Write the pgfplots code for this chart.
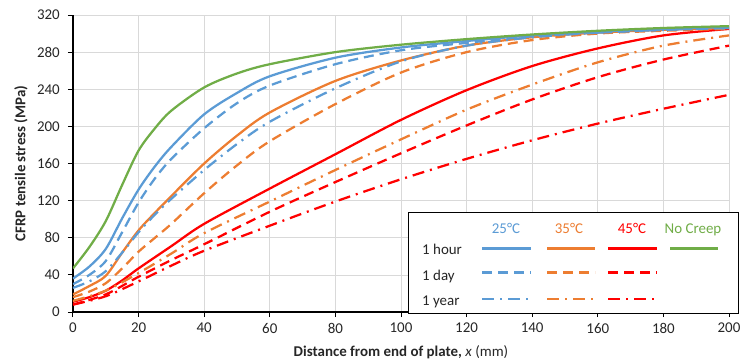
\documentclass[border=0pt]{standalone}
\usepackage{fontspec}
\setmainfont{Carlito}
\usepackage{pgfplots}
\pgfplotsset{compat=1.18}
\definecolor{cblue}{HTML}{5B9BD5}
\definecolor{corange}{HTML}{ED7D31}
\definecolor{cred}{HTML}{FF0000}
\definecolor{cgreen}{HTML}{70AD47}
\definecolor{cgrid}{HTML}{D9D9D9}
\definecolor{ctext}{HTML}{262626}
\tikzset{
  dsh/.style={dash pattern=on 10bp off 6bp},
  dshdot/.style={dash pattern=on 12bp off 6bp on 2bp off 6bp},
  ser/.style={line width=2.25bp, smooth, tension=0.5}
}
\begin{document}
\fontsize{15}{18}\selectfont
\begin{tikzpicture}
\useasboundingbox (-73bp,-50bp) rectangle (669bp,312bp);
\begin{axis}[
  at={(0,0)}, anchor=south west,
  width=656bp, height=297bp, scale only axis,
  xmin=0, xmax=200, ymin=0, ymax=320,
  xtick={0,20,...,200}, ytick={0,40,...,320},
  axis x line*=bottom, axis y line*=left,
  axis line style={-, line width=1.5bp, black},
  tick align=outside, major tick length=5bp,
  tick style={black, line width=1bp},
  grid=major, grid style={cgrid, line width=0.75bp},
  /pgf/number format/assume math mode=true,
  ticklabel style={font=\fontsize{15}{18}\selectfont, text=ctext},
  yticklabel style={xshift=-3bp},
  xticklabel style={yshift=-1bp},
  xlabel={\textbf{Distance from end of plate,} \textit{x} (mm)},
  ylabel={\textbf{CFRP tensile stress (MPa)}},
  every axis x label/.style={at={(axis description cs:0.5,0)}, anchor=center, yshift=-40bp, font=\fontsize{15}{18}\selectfont, text=ctext},
  every axis y label/.style={at={([xshift=-52bp]axis description cs:0,0.5)}, anchor=center, rotate=90, font=\fontsize{15}{18}\selectfont, text=ctext},
]
% 45C 1 year
\addplot[cred, ser, dshdot] coordinates {(0,8) (10,17) (20,33) (30,50) (40,66) (60,93) (80,119) (100,143) (120,165) (140,185) (160,203) (180,219) (200,234)};
% 45C 1 day
\addplot[cred, ser, dsh] coordinates {(0,8) (10,19) (20,38) (30,56) (40,73) (60,108) (80,140) (100,171) (120,201) (140,229) (160,253) (180,272) (200,287)};
% 45C 1 hour
\addplot[cred, ser] coordinates {(0,11) (5,16) (10,23) (15,34) (20,47) (30,71) (40,95) (60,133) (80,170) (100,207) (120,239) (140,265) (160,284) (180,298) (200,305)};
% 35C 1 year
\addplot[cred!0!corange, ser, dshdot] coordinates {(0,12) (10,23) (20,42) (30,63) (40,85) (60,119) (80,153) (100,186) (120,218) (140,245) (160,269) (180,287) (200,298)};
% 35C 1 day
\addplot[corange, ser, dsh] coordinates {(0,16) (5,22) (10,31) (15,47) (20,65) (25,80) (30,95) (40,128) (50,158) (60,184) (80,224) (100,258) (120,280) (140,293) (160,300) (180,303) (200,305)};
% 35C 1 hour
\addplot[corange, ser] coordinates {(0,19) (5,28) (10,39) (15,64) (20,88) (25,107) (30,125) (40,160) (50,190) (60,215) (80,249) (100,271) (120,287) (140,296) (160,301) (180,304) (200,306)};
% 25C 1 year
\addplot[cblue, ser, dshdot] coordinates {(0,26) (5,33) (10,44) (15,64) (20,86) (25,105) (30,122) (40,153) (50,181) (60,205) (80,241) (100,270) (120,287) (140,296) (160,301) (180,304) (200,306)};
% 25C 1 day
\addplot[cblue, ser, dsh] coordinates {(0,30) (5,40) (10,55) (15,86) (20,118) (25,144) (30,165) (40,198) (50,225) (60,244) (80,267) (100,282) (120,290) (140,297) (160,301) (180,304) (200,306)};
% 25C 1 hour
\addplot[cblue, ser] coordinates {(0,36) (5,49) (10,68) (15,101) (20,132) (25,157) (30,178) (40,213) (50,236) (60,254) (80,274) (100,285) (120,292) (140,298) (160,302) (180,305) (200,307)};
% No creep
\addplot[cgreen, ser] coordinates {(0,47) (5,70) (10,98) (15,137) (20,174) (25,198) (30,217) (40,242) (50,257) (60,267) (80,280) (100,288) (120,294) (140,299) (160,303) (180,306) (200,308)};
\end{axis}
% legend
\draw[line width=0.75bp, black, fill=white] (335bp,-1bp) rectangle (665bp,100bp);
\node[anchor=base, text=cblue, inner sep=0] at (433bp,78bp) {25°C};
\node[anchor=base, text=corange, inner sep=0] at (496bp,78bp) {35°C};
\node[anchor=base, text=cred, inner sep=0] at (559bp,78bp) {45°C};
\node[anchor=base, text=cgreen, inner sep=0] at (620bp,78bp) {No Creep};
\node[anchor=base west, text=ctext, inner sep=0] at (349bp,57bp) {1 hour};
\node[anchor=base west, text=ctext, inner sep=0] at (349bp,32bp) {1 day};
\node[anchor=base west, text=ctext, inner sep=0] at (349bp,6.5bp) {1 year};
\draw[cblue, line width=2.25bp] (409bp,63.5bp) -- (458bp,63.5bp);
\draw[corange, line width=2.25bp] (474bp,63.5bp) -- (522bp,63.5bp);
\draw[cred, line width=2.25bp] (535bp,63.5bp) -- (584bp,63.5bp);
\draw[cgreen, line width=2.25bp] (597bp,63.5bp) -- (645bp,63.5bp);
\draw[cblue, line width=2.25bp, dsh] (409bp,39.5bp) -- (458bp,39.5bp);
\draw[corange, line width=2.25bp, dsh] (474bp,39.5bp) -- (522bp,39.5bp);
\draw[cred, line width=2.25bp, dsh] (535bp,39.5bp) -- (584bp,39.5bp);
\draw[cblue, line width=2.25bp, dshdot] (409bp,13bp) -- (458bp,13bp);
\draw[corange, line width=2.25bp, dshdot] (474bp,13bp) -- (522bp,13bp);
\draw[cred, line width=2.25bp, dshdot] (535bp,13bp) -- (584bp,13bp);
\end{tikzpicture}
\end{document}
